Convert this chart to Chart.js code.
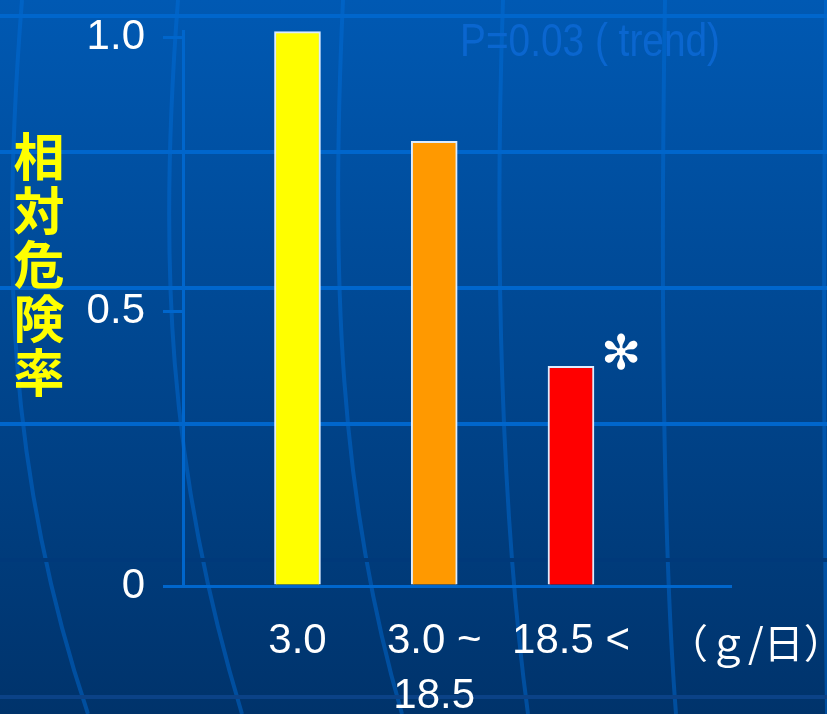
<!DOCTYPE html>
<html><head><meta charset="utf-8">
<script src="https://cdn.jsdelivr.net/npm/chart.js@4.4.1/dist/chart.umd.min.js"></script>
<style>html,body{margin:0;padding:0;background:#003f85;overflow:hidden}canvas{display:block}</style>
</head><body>
<canvas id="c" width="827" height="714"></canvas>
<script>
// ---- data ----
const categories = [['3.0'], ['3.0 ~', '18.5'], ['18.5 <']];
const relativeRisk = [1.01, 0.81, 0.40];
const barColors = ['#ffff00', '#ff9900', '#ff0000'];
const yTickValues = [0, 0.5, 1.0];
const yTickLabels = ['0', '0.5', '1.0'];
const yAxisTitle = ['相', '対', '危', '険', '率'];
const trendText = 'P=0.03 ( trend)';
const unitText = '（ｇ/日）';
const sigMark = '✻';
const sigIndex = 2;

const AXIS_BLUE = '#0066cc';

const backgroundPlugin = {
  id: 'slideBackground',
  beforeDraw(chart) {
    const ctx = chart.ctx, W = chart.width, H = chart.height;
    ctx.save();
    const g = ctx.createLinearGradient(0, 0, 0, H);
    g.addColorStop(0, '#0059b3');
    g.addColorStop(1, '#00336b');
    ctx.fillStyle = g;
    ctx.fillRect(0, 0, W, H);
    // curved meridian-like lines
    ctx.strokeStyle = 'rgba(0,110,220,0.45)';
    ctx.lineWidth = 4;
    const curves = [
      [[22,0],[2,250],[6,470],[88,714]],
      [[178,0],[158,260],[168,470],[242,714]],
      [[343,0],[330,280],[340,500],[402,714]],
      [[503,0],[494,260],[502,520],[528,714]],
      [[665,0],[660,300],[664,560],[676,714]],
      [[826,0],[823,250],[824,500],[827,714]]
    ];
    for (const c of curves) {
      ctx.beginPath();
      ctx.moveTo(c[0][0], c[0][1]);
      ctx.bezierCurveTo(c[1][0], c[1][1], c[2][0], c[2][1], c[3][0], c[3][1]);
      ctx.stroke();
    }
    // horizontal slide lines
    ctx.lineWidth = 4;
    ctx.strokeStyle = AXIS_BLUE;
    for (const y of [16, 152, 288, 424]) {
      ctx.beginPath(); ctx.moveTo(0, y); ctx.lineTo(W, y); ctx.stroke();
    }
    ctx.strokeStyle = '#00397a';
    ctx.beginPath(); ctx.moveTo(0, 560); ctx.lineTo(W, 560); ctx.stroke();
    ctx.strokeStyle = '#0b4287';
    ctx.beginPath(); ctx.moveTo(0, 697); ctx.lineTo(W, 697); ctx.stroke();
    ctx.restore();
  }
};

const annotationPlugin = {
  id: 'annotations',
  afterDraw(chart) {
    const ctx = chart.ctx;
    ctx.save();
    // trend text
    ctx.font = '46px "Liberation Sans", Arial, sans-serif';
    ctx.fillStyle = '#0a66cf';
    ctx.textBaseline = 'alphabetic';
    ctx.textAlign = 'left';
    const w = ctx.measureText(trendText).width;
    ctx.translate(460, 56);
    ctx.scale(260 / w, 1);
    ctx.fillText(trendText, 0, 0);
    ctx.restore();

    ctx.save();
    // y axis title (vertical stacked)
    ctx.font = 'bold 51px "Noto Sans CJK JP", sans-serif';
    ctx.fillStyle = '#ffff00';
    ctx.textAlign = 'center';
    ctx.textBaseline = 'middle';
    yAxisTitle.forEach((ch, i) => ctx.fillText(ch, 39, 157 + i * 54));

    // unit text
    ctx.font = '40px "Noto Sans CJK JP", sans-serif';
    ctx.fillStyle = '#ffffff';
    ctx.textAlign = 'left';
    ctx.textBaseline = 'middle';
    ctx.fillText(unitText, 668, 643);

    // significance mark next to the bar
    const bar = chart.getDatasetMeta(0).data[sigIndex];
    ctx.font = '48px "DejaVu Sans", sans-serif';
    ctx.textAlign = 'center';
    ctx.textBaseline = 'middle';
    ctx.fillText(sigMark, bar.x + 50, bar.y - 10);
    ctx.restore();
  }
};

new Chart(document.getElementById('c'), {
  type: 'bar',
  data: {
    datasets: [{
      data: relativeRisk.map((v, i) => ({ x: i + 1, y: v })),
      backgroundColor: barColors,
      borderColor: '#dcecff',
      borderWidth: 2,
      barThickness: 46
    }]
  },
  options: {
    responsive: false,
    animation: false,
    devicePixelRatio: 1,
    layout: { padding: { top: 31, right: 96, left: 0, bottom: 0 } },
    plugins: { legend: { display: false }, tooltip: { enabled: false }, title: { display: false } },
    scales: {
      x: {
        type: 'linear',
        offset: false,
        bounds: 'data',
        min: 0.163,
        max: 4.17,
        afterBuildTicks: (s) => { s.ticks = categories.map((c, i) => ({ value: i + 1 })); },
        afterFit: (s) => { s.height = 128; s.paddingLeft = 0; s.paddingRight = 0; },
        grid: { display: false, drawTicks: false },
        border: { display: true, color: AXIS_BLUE, width: 3 },
        ticks: {
          autoSkip: false, maxRotation: 0, minRotation: 0,
          padding: 28,
          color: '#ffffff',
          font: { family: '"Liberation Sans", Arial, sans-serif', size: 42, lineHeight: 1.31 },
          callback: (v) => categories[Math.round(v) - 1]
        }
      },
      y: {
        min: 0,
        max: 1.011,
        afterBuildTicks: (s) => { s.ticks = yTickValues.map(v => ({ value: v })); },
        afterFit: (s) => { s.width = 183; s.paddingTop = 0; s.paddingBottom = 0; },
        grid: { display: true, drawOnChartArea: false, drawTicks: true, tickLength: 20, color: AXIS_BLUE, lineWidth: 3 },
        border: { display: true, color: AXIS_BLUE, width: 3 },
        ticks: {
          padding: 18,
          color: '#ffffff',
          font: { family: '"Liberation Sans", Arial, sans-serif', size: 42 },
          callback: (v) => yTickLabels[yTickValues.indexOf(v)]
        }
      }
    }
  },
  plugins: [backgroundPlugin, annotationPlugin]
});
</script>
</body></html>
